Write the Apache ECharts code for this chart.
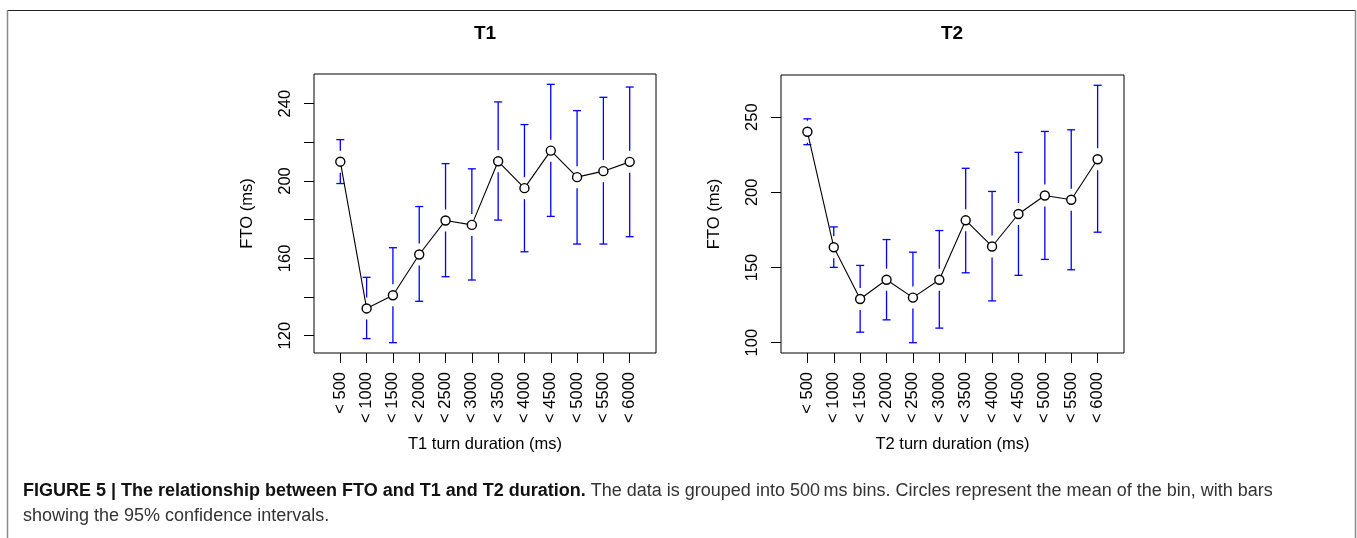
<!DOCTYPE html>
<html>
<head>
<meta charset="utf-8">
<script src="https://cdn.jsdelivr.net/npm/echarts@6/dist/echarts.min.js"></script>
<style>
html,body{margin:0;padding:0;background:#fff;}
#chart{width:1357px;height:538px;}
</style>
</head>
<body>
<div id="chart"></div>
<script>
// ---- data ----
const categories = ['< 500','< 1000','< 1500','< 2000','< 2500','< 3000','< 3500','< 4000','< 4500','< 5000','< 5500','< 6000'];

const t1Mean  = [210.0, 134.1, 140.9, 162.0, 179.6, 177.3, 210.2, 196.3, 215.7, 202.0, 205.1, 209.9];
const t1Upper = [221.4, 150.2, 165.5, 186.8, 209.0, 206.3, 240.9, 229.2, 250.0, 236.4, 243.3, 248.6];
const t1Lower = [198.7, 118.5, 116.4, 137.8, 150.5, 148.8, 179.8, 163.4, 181.7, 167.4, 167.4, 171.2];

const t2Mean  = [240.3, 163.5, 129.1, 141.9, 130.0, 141.9, 181.4, 164.0, 185.6, 197.9, 195.1, 222.0];
const t2Upper = [248.9, 177.0, 151.4, 168.6, 160.2, 174.6, 216.0, 200.6, 226.6, 240.5, 241.6, 271.2];
const t2Lower = [231.7, 150.1, 107.0, 115.2, 100.0, 109.7, 146.5, 127.8, 144.8, 155.4, 148.5, 173.5];

const t1TickValues  = [120, 140, 160, 180, 200, 220, 240];
const t1LabelValues = [120, 160, 200, 240];
const t2TickValues  = [100, 150, 200, 250];
const t2LabelValues = [100, 150, 200, 250];

const panelTitles = ['T1', 'T2'];
const xTitles = ['T1 turn duration (ms)', 'T2 turn duration (ms)'];
const yTitle = 'FTO (ms)';

// ---- helpers ----
const FONT = "'Liberation Sans', Arial, Helvetica, sans-serif";
const xPos = categories.map((c, i) => i + 1);

function rangeOf(lo, hi) {
  const a = Math.min.apply(null, lo), b = Math.max.apply(null, hi);
  const e = (b - a) * 0.04;
  return [a - e, b + e];
}
const r1 = rangeOf(t1Lower, t1Upper);
const r2 = rangeOf(t2Lower, t2Upper);

function ciData(mean, lo, hi) {
  return xPos.map((x, i) => [x, lo[i], hi[i], mean[i]]);
}
function lineData(mean) {
  return xPos.map((x, i) => [x, mean[i]]);
}

const GAP = 11, CAP = 4;
function renderCI(params, api) {
  const x = api.value(0);
  const pLo = api.coord([x, api.value(1)]);
  const pHi = api.coord([x, api.value(2)]);
  const pM = api.coord([x, api.value(3)]);
  const style = { stroke: '#0000ff', lineWidth: 1.3 };
  const children = [];
  if (pHi[1] < pM[1] - GAP) {
    children.push({ type: 'line', shape: { x1: pHi[0], y1: pHi[1], x2: pM[0], y2: pM[1] - GAP }, style });
  }
  if (pLo[1] > pM[1] + GAP) {
    children.push({ type: 'line', shape: { x1: pM[0], y1: pM[1] + GAP, x2: pLo[0], y2: pLo[1] }, style });
  }
  children.push({ type: 'line', shape: { x1: pHi[0] - CAP, y1: pHi[1], x2: pHi[0] + CAP, y2: pHi[1] }, style });
  children.push({ type: 'line', shape: { x1: pLo[0] - CAP, y1: pLo[1], x2: pLo[0] + CAP, y2: pLo[1] }, style });
  return { type: 'group', children };
}

function xAxisFor(idx) {
  return {
    type: 'value', gridIndex: idx, min: 0, max: 13,
    axisLine: { show: false },
    axisTick: { show: true, length: 10, customValues: xPos, lineStyle: { color: '#000', width: 1 } },
    axisLabel: {
      customValues: xPos, rotate: 90, margin: 19, fontSize: 16.5, color: '#000', fontFamily: FONT,
      formatter: v => categories[Math.round(v) - 1] || ''
    },
    splitLine: { show: false },
    name: xTitles[idx], nameLocation: 'middle', nameGap: 83,
    nameTextStyle: { fontSize: 16.5, color: '#000', fontFamily: FONT }
  };
}
function yAxisFor(idx, r, ticks, labels) {
  return {
    type: 'value', gridIndex: idx, min: r[0], max: r[1],
    axisLine: { show: false },
    axisTick: { show: true, length: 10, customValues: ticks, lineStyle: { color: '#000', width: 1 } },
    axisLabel: { customValues: labels, rotate: 90, margin: 20, fontSize: 16.5, color: '#000', fontFamily: FONT },
    splitLine: { show: false },
    name: yTitle, nameLocation: 'middle', nameGap: 58, nameRotate: 90,
    nameTextStyle: { fontSize: 16.5, color: '#000', fontFamily: FONT }
  };
}

const chart = echarts.init(document.getElementById('chart'), null, { renderer: 'canvas' });
const option = {
  animation: false,
  backgroundColor: '#fff',
  title: [
    { text: panelTitles[0], left: 485, top: 24, textAlign: 'center', padding: 0,
      textStyle: { fontSize: 19, fontWeight: 'bold', color: '#000', fontFamily: FONT } },
    { text: panelTitles[1], left: 952, top: 24, textAlign: 'center', padding: 0,
      textStyle: { fontSize: 19, fontWeight: 'bold', color: '#000', fontFamily: FONT } }
  ],
  grid: [
    { left: 314, top: 74, width: 342, height: 279, show: true, borderColor: '#000', borderWidth: 1, backgroundColor: 'transparent' },
    { left: 781, top: 75, width: 343, height: 278, show: true, borderColor: '#000', borderWidth: 1, backgroundColor: 'transparent' }
  ],
  xAxis: [xAxisFor(0), xAxisFor(1)],
  yAxis: [yAxisFor(0, r1, t1TickValues, t1LabelValues), yAxisFor(1, r2, t2TickValues, t2LabelValues)],
  series: [
    { type: 'custom', xAxisIndex: 0, yAxisIndex: 0, data: ciData(t1Mean, t1Lower, t1Upper), renderItem: renderCI, silent: true },
    { type: 'line', xAxisIndex: 0, yAxisIndex: 0, data: lineData(t1Mean), symbol: 'circle', symbolSize: 9,
      itemStyle: { color: '#fff', borderColor: '#000', borderWidth: 1.4 }, lineStyle: { color: '#000', width: 1.1 }, z: 3 },
    { type: 'custom', xAxisIndex: 1, yAxisIndex: 1, data: ciData(t2Mean, t2Lower, t2Upper), renderItem: renderCI, silent: true },
    { type: 'line', xAxisIndex: 1, yAxisIndex: 1, data: lineData(t2Mean), symbol: 'circle', symbolSize: 9,
      itemStyle: { color: '#fff', borderColor: '#000', borderWidth: 1.4 }, lineStyle: { color: '#000', width: 1.1 }, z: 3 }
  ],
  graphic: [
    { type: 'line', shape: { x1: 7, y1: 10.5, x2: 1355, y2: 10.5 }, style: { stroke: '#222', lineWidth: 1 }, silent: true },
    { type: 'line', shape: { x1: 7.5, y1: 10, x2: 7.5, y2: 538 }, style: { stroke: '#888', lineWidth: 1.5 }, silent: true },
    { type: 'line', shape: { x1: 1355.5, y1: 10, x2: 1355.5, y2: 538 }, style: { stroke: '#888', lineWidth: 1.5 }, silent: true },
    { type: 'text', left: 23, top: 482, silent: true,
      style: {
        text: '{b|FIGURE 5 | The relationship between FTO and T1 and T2 duration.}{r| The data is grouped into 500\u2009ms bins. Circles represent the mean of the bin, with bars}',
        font: '18px ' + FONT, fill: '#222',
        rich: { b: { fontWeight: 'bold', fontSize: 18, fontFamily: FONT, fill: '#111' }, r: { fontSize: 18, fontFamily: FONT, fill: '#333' } }
      } },
    { type: 'text', left: 23, top: 507, silent: true,
      style: { text: 'showing the 95% confidence intervals.', font: '18px ' + FONT, fill: '#333' } }
  ]
};
chart.setOption(option);
</script>
</body>
</html>
